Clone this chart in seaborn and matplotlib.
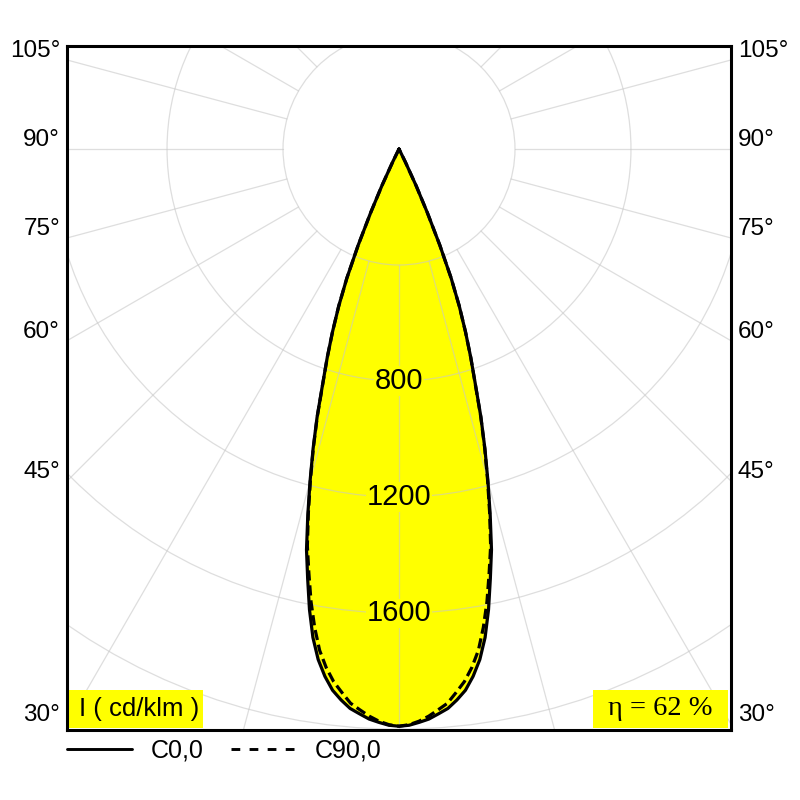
import numpy as np
import pandas as pd
import matplotlib
matplotlib.use("Agg")
import matplotlib.pyplot as plt
from matplotlib.lines import Line2D
from matplotlib.patches import Rectangle, Circle
import seaborn as sns

sns.set_style("white")
plt.rcParams['font.family'] = ['Liberation Sans', 'DejaVu Sans']
plt.rcParams['text.color'] = 'black'

# gamma angles (deg from nadir) and intensities in cd/klm
gamma = list(range(0, 28))
c0 = [1990, 1987, 1978, 1968, 1952, 1936, 1910, 1880, 1836, 1782,
      1710, 1618, 1515, 1418, 1300, 1185, 1075, 966, 852, 760,
      670, 580, 480, 360, 240, 140, 50, 0]
c90 = [1990, 1985, 1974, 1958, 1938, 1918, 1884, 1850, 1805, 1750,
       1675, 1590, 1495, 1405, 1292, 1180, 1072, 964, 850, 760,
       670, 580, 480, 360, 240, 140, 50, 0]

ring_values = [400, 800, 1200, 1600, 2000]
ring_labels = ["800", "1200", "1600"]
side_angles = [105, 90, 75, 60, 45, 30]
eta = 62

xmin, xmax = -1145, 1145
ymin, ymax = -2003, 355


def polygon(vals):
    g = np.radians(np.r_[-np.array(gamma[::-1]), np.array(gamma[1:])])
    v = np.r_[np.array(vals[::-1]), np.array(vals[1:])]
    return v * np.sin(g), -v * np.cos(g)


rows = []
for name, vals in [("C0,0", c0), ("C90,0", c90)]:
    x, y = polygon(vals)
    for i in range(len(x)):
        rows.append({"x": x[i], "y": y[i], "curve": name, "order": i})
df = pd.DataFrame(rows)

fig = plt.figure(figsize=(8, 8), dpi=100)
ax = fig.add_axes([67 / 800, 70 / 800, 664 / 800, 684 / 800])

# yellow fill of the C0 curve
px, py = polygon(c0)
ax.fill(px, py, color="#ffff00", lw=0, zorder=1)

# grid: rings and radial lines from the first ring outwards
for r in ring_values:
    ax.add_patch(Circle((0, 0), r, fill=False, ec="#c8c8c8", lw=0.9, alpha=0.6, zorder=2))
for a in range(0, 360, 15):
    t = np.radians(a)
    ax.plot([400 * np.sin(t), 4000 * np.sin(t)], [-400 * np.cos(t), -4000 * np.cos(t)],
            color="#c8c8c8", lw=0.9, alpha=0.6, zorder=2)

sns.lineplot(data=df, x="x", y="y", style="curve", units="curve", estimator=None,
             sort=False, color="black", dashes={"C0,0": "", "C90,0": (3.2, 1.5)},
             linewidth=2.3, legend=False, ax=ax, zorder=3)

for lab in ring_labels:
    ax.text(0, -float(lab), lab, ha="center", va="center", fontsize=21, zorder=4,
            bbox=dict(facecolor="#ffff00", edgecolor="none", pad=0.5))

ax.set_xlim(xmin, xmax)
ax.set_ylim(ymin, ymax)
ax.set_xticks([])
ax.set_yticks([])
ax.set_xlabel("")
ax.set_ylabel("")
for s in ax.spines.values():
    s.set_visible(True)
    s.set_color("black")
    s.set_linewidth(2.2)
    s.set_zorder(6)

for a in side_angles:
    yh = -xmax / np.tan(np.radians(a))
    ax.annotate(f"{a}°", xy=(xmin, yh), xytext=(-5, 6.5), textcoords="offset points",
                ha="right", va="center", fontsize=17.5, annotation_clip=False)
    ax.annotate(f"{a}°", xy=(xmax, yh), xytext=(5, 6.5), textcoords="offset points",
                ha="left", va="center", fontsize=17.5, annotation_clip=False)

# unit box and efficiency box
ax.add_patch(Rectangle((0.003, 0.003), 0.202, 0.056, transform=ax.transAxes,
                       facecolor="#ffff00", edgecolor="none", zorder=5))
ax.text(0.018, 0.031, "I ( cd/klm )", transform=ax.transAxes, ha="left", va="center",
        fontsize=18.5, zorder=6)
ax.add_patch(Rectangle((0.792, 0.003), 0.203, 0.056, transform=ax.transAxes,
                       facecolor="#ffff00", edgecolor="none", zorder=5))
ax.text(0.894, 0.031, f"η = {eta} %", transform=ax.transAxes, ha="center", va="center",
        fontsize=20.5, family=["Liberation Serif", "DejaVu Serif"], zorder=6)

handles = [Line2D([], [], color="black", lw=2.1),
           Line2D([], [], color="black", lw=2.1, dashes=(3, 3.2))]
ax.legend(handles, ["C0,0", "C90,0"], loc="center left", bbox_to_anchor=(0, -0.03),
          ncol=2, frameon=False, fontsize=18, handlelength=2.6, handletextpad=0.75,
          columnspacing=1.1, borderpad=0, borderaxespad=0)

fig.savefig("out.png", dpi=100)
